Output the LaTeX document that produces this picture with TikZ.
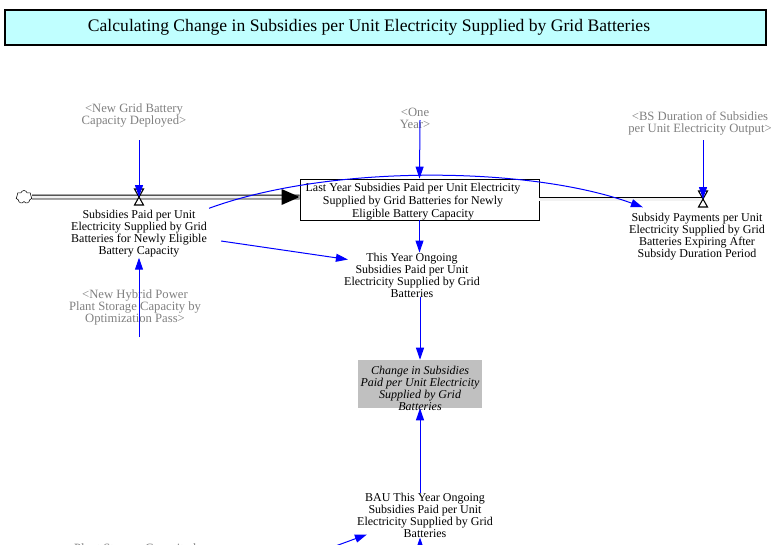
\documentclass[tikz,border=0pt]{standalone}
\usepackage{fontspec}
\setmainfont{Liberation Serif}
\usetikzlibrary{arrows.meta,calc,shapes.symbols}
\definecolor{titlecyan}{RGB}{192,255,255}
\definecolor{auxgray}{RGB}{192,192,192}
\definecolor{shadowgray}{RGB}{128,128,128}
\begin{document}
\begin{tikzpicture}[x=0.75pt,y=-0.75pt,
var/.style={align=center,inner sep=0pt,font=\fontsize{9}{9}\selectfont},
shadow/.style={align=center,inner sep=0pt,font=\fontsize{9.5}{9}\selectfont,text=shadowgray},
link/.style={blue,line width=0.75pt,-{Triangle[length=9pt,width=6pt]}},
pipe/.style={draw=black,double=gray!10,double distance=2.25pt,line width=0.7pt},
valve/.style={draw=black,fill=white,line width=0.8pt}]
\useasboundingbox (0,0) rectangle (771,544);
\clip (0,0) rectangle (771,544);
\draw[line width=1.5pt,fill=titlecyan] (5,10) rectangle (766,45);
\node[font=\fontsize{13.2}{13}\selectfont] (title) at (369,27) {Calculating Change in Subsidies per Unit Electricity Supplied by Grid Batteries};
\node[draw,line width=0.6pt,minimum width=179.25pt,minimum height=30.75pt,inner sep=0pt] (stock) at (419.5,199.5) {};
\node[var,font=\fontsize{9}{9.75}\selectfont] (stocktext) at (413,202) {Last Year Subsidies Paid per Unit Electricity\\Supplied by Grid Batteries for Newly\\Eligible Battery Capacity};
\node[cloud,draw,fill=white,cloud puffs=7,minimum width=12pt,minimum height=9.75pt,inner sep=0pt] (src) at (24,197) {};
\coordinate (invalve) at (139,197);
\coordinate (outvalve) at (703,199);
\draw[pipe] (src.east) -- (stock.west |- invalve);
\draw[pipe] (stock.east |- outvalve) -- (outvalve);
\fill (stock.west |- invalve) -- ++(-18,-8) -- ++(0,16) -- cycle;
\foreach \v in {invalve,outvalve}
  \draw[valve,shift={(\v)}] (-4.5,-8) -- (4.5,-8) -- (-4.5,8) -- (4.5,8) -- cycle;
\node[var] (inflow) at (139,234) {Subsidies Paid per Unit\\Electricity Supplied by Grid\\Batteries for Newly Eligible\\Battery Capacity};
\node[var] (outflow) at (697,237) {Subsidy Payments per Unit\\Electricity Supplied by Grid\\Batteries Expiring After\\Subsidy Duration Period};
\node[var] (thisyear) at (412,275) {This Year Ongoing\\Subsidies Paid per Unit\\Electricity Supplied by Grid\\Batteries};
\node[fill=auxgray,minimum width=93pt,minimum height=36pt] (change) at (420,384) {};
\node[var,font=\fontsize{9}{9}\selectfont\itshape] (changetext) at (420,388) {Change in Subsidies\\Paid per Unit Electricity\\Supplied by Grid\\Batteries};
\node[var] (bau) at (425,515) {BAU This Year Ongoing\\Subsidies Paid per Unit\\Electricity Supplied by Grid\\Batteries};
\node[shadow] (gridcap) at (134,115) {<New Grid Battery\\Capacity Deployed>};
\node[shadow] (one) at (415,118) {<One\\Year>};
\node[shadow] (bsdur) at (700,123) {<BS Duration of Subsidies\\per Unit Electricity Output>};
\node[shadow] (hybrid) at (135,307) {<New Hybrid Power\\Plant Storage Capacity by\\Optimization Pass>};
\node[shadow] (cutoff) at (140,549) {Plant Storage Capacity by};
\coordinate (offleft) at (300,559);
\coordinate (offbelow) at (420,575);
\draw[link] ($(invalve |- gridcap.south)+(0,13)$) -- (invalve);
\draw[link] ($(one.center)+(5,2)$) -- (stock.north);
\draw[link] ($(outvalve |- bsdur.south)+(0,5)$) -- (outvalve);
\draw[link] ($(invalve |- hybrid.south)+(0,12)$) -- (inflow.south -| invalve);
\draw[link] ($(inflow.east)+(14,7)$) -- ($(thisyear.north west)+(4,7)$);
\draw[link] ($(inflow.north east)+(2,-2)$) .. controls (330,164) and (530,166) .. ($(outflow.north west)+(14,-6)$);
\draw[link] (stock.south) -- (stock.south |- thisyear.north);
\draw[link] (thisyear.south -| change.north) -- (change.north);
\draw[link] (bau.north -| change.south) -- (change.south);
\draw[link] (offleft) -- ($(bau.south west)+(10,-3)$);
\draw[link] (offbelow) -- (bau.south -| change.south);
\end{tikzpicture}
\end{document}
